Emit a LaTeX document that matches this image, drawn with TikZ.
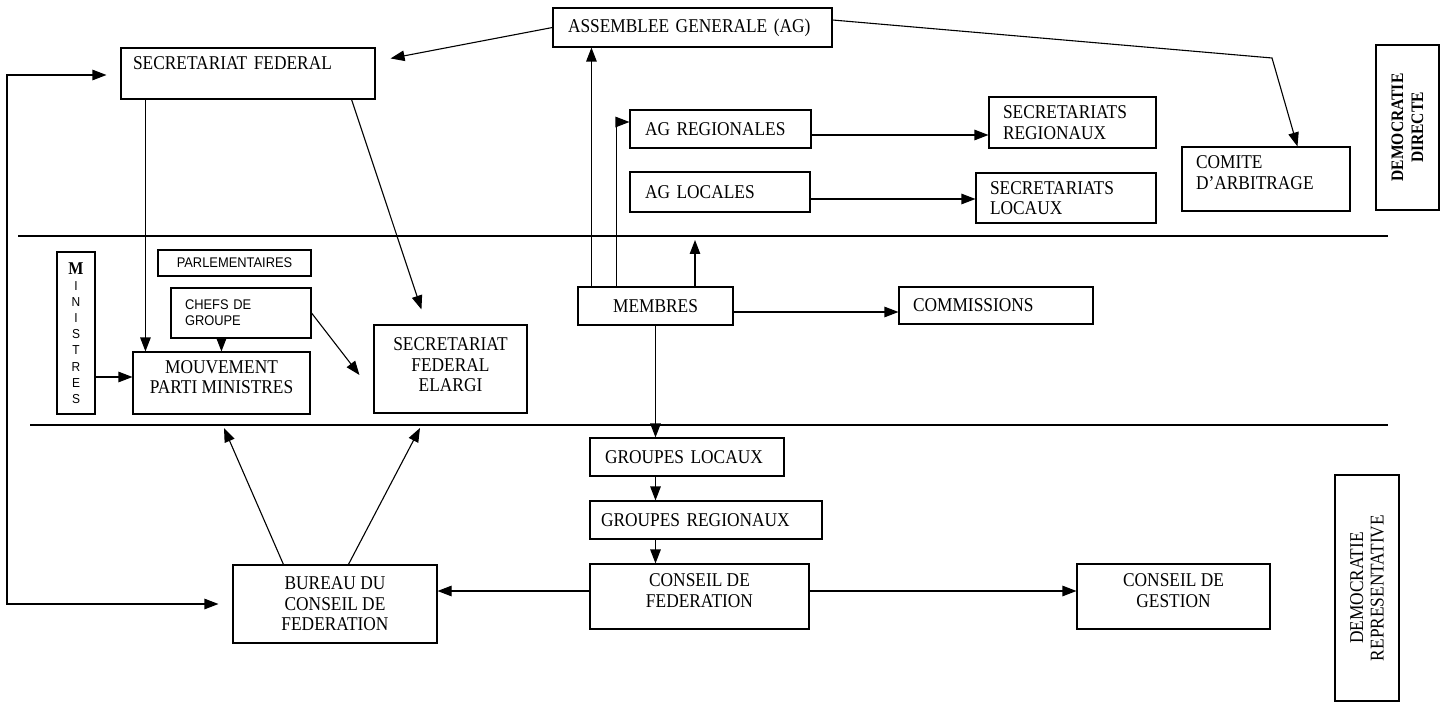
\documentclass[tikz,border=0pt]{standalone}
\usepackage{fontspec}
\setmainfont{Liberation Serif}[FakeStretch=0.89]
\newfontfamily\sansf{Liberation Sans}[FakeStretch=0.92]
\usetikzlibrary{arrows.meta,calc}
\begin{document}
\begin{tikzpicture}[x=1pt,y=-1pt,
  every node/.style={font=\fontsize{19.5}{20.5}\selectfont, text=black},
  bx/.style={draw, line width=1.1pt, inner sep=0pt, align=center},
  lb/.style={draw, line width=1.1pt, inner ysep=0pt, align=left},
  arr/.style={line width=1.1pt, -{Triangle[length=14pt,width=10.5pt]}},
  arrb/.style={line width=1.1pt, {Triangle[length=14pt,width=10.5pt]}-{Triangle[length=14pt,width=10.5pt]}},
  sepline/.style={line width=1.3pt}]
\useasboundingbox (0,0) rectangle (1442,703);

% separators
\draw[sepline] (18,236) -- (1388,236);
\draw[sepline] (30,425) -- (1388,425);

% top zone
\node[lb, inner xsep=15pt, text width=249pt, minimum height=39pt] (AG) at (692.5,27.5) {ASSEMBLEE GENERALE (AG)};
\node[lb, inner xsep=12pt, text width=230pt, minimum height=51pt] (SF) at (248,73.5) {SECRETARIAT FEDERAL\\[0pt]\mbox{}};
\node[lb, inner xsep=15pt, text width=151pt, minimum height=38pt] (AGR) at (720.5,129) {AG REGIONALES};
\node[lb, inner xsep=15pt, text width=150pt, minimum height=40pt] (AGL) at (720,192) {AG LOCALES};
\node[lb, inner xsep=14pt, text width=139pt, minimum height=51pt] (SR) at (1072.5,122.5) {SECRETARIATS\\REGIONAUX};
\node[lb, inner xsep=14pt, text width=152pt, minimum height=50pt] (SL) at (1066,198) {SECRETARIATS\\LOCAUX};
\node[lb, inner xsep=14pt, text width=140pt, minimum height=64pt] (COM) at (1266,179) {COMITE\\D’ARBITRAGE\\[-8pt]\mbox{}};
\node[bx, rotate=90, minimum width=165pt, minimum height=63pt, font=\bfseries\fontsize{17.5}{20}\selectfont] (DD) at (1407.5,127.5) {DEMOCRATIE\\DIRECTE};

% middle zone
\node[bx, minimum width=38pt, minimum height=162pt, font=\sansf\fontsize{13}{16.1}\selectfont] (MIN) at (76,333)
  {{\rmfamily\bfseries\fontsize{18}{16.1}\selectfont M}\\I\\N\\I\\S\\T\\R\\E\\S};
\node[bx, minimum width=153pt, minimum height=26pt, font=\sansf\fontsize{14}{16}\selectfont] (PARL) at (234.5,263) {PARLEMENTAIRES};
\node[lb, inner xsep=14pt, text width=112pt, minimum height=50pt, font=\sansf\fontsize{14}{16}\selectfont] (CH) at (241,313) {CHEFS DE\\GROUPE};
\node[bx, minimum width=177pt, minimum height=62pt] (MPM) at (221.5,383) {MOUVEMENT\\PARTI MINISTRES\\[-9pt]\mbox{}};
\node[bx, minimum width=153pt, minimum height=88pt] (SFE) at (450.5,369) {SECRETARIAT\\FEDERAL\\ELARGI\\[-12pt]\mbox{}};
\node[bx, minimum width=155pt, minimum height=38pt] (MEM) at (655.5,306) {MEMBRES};
\node[lb, inner xsep=14pt, text width=166pt, minimum height=37pt] (COMM) at (996,305.5) {COMMISSIONS};

% bottom zone
\node[lb, inner xsep=15pt, text width=164pt, minimum height=38pt] (GL) at (687,457) {GROUPES LOCAUX};
\node[lb, inner xsep=11pt, text width=210pt, minimum height=38pt] (GR) at (706,520) {GROUPES REGIONAUX};
\node[bx, minimum width=219pt, minimum height=65pt] (CF) at (699.5,596.5) {CONSEIL DE\\FEDERATION\\[-9pt]\mbox{}};
\node[bx, minimum width=193pt, minimum height=65pt] (CG) at (1173.5,596.5) {CONSEIL DE\\GESTION\\[-9pt]\mbox{}};
\node[bx, minimum width=204pt, minimum height=78pt] (BUR) at (335,604) {BUREAU DU\\CONSEIL DE\\FEDERATION};
\node[bx, rotate=90, minimum width=226pt, minimum height=64pt] (DR) at (1367,588) {DEMOCRATIE\\REPRESENTATIVE};

% free ends
\coordinate (lc) at (7,604);
\coordinate (memup) at (695,240);
\coordinate (bend) at (1272,58);
\coordinate (t1) at (224,428);
\coordinate (t2) at (420,428);

% connectors
\draw[arr] (AG.west) -- ($(SF.north east)+(15,11)$);
\draw[arrb] ($(SF.west)+(-14,1.5)$) -| (lc) -- ($(BUR.west)+(-14,0)$);
\draw[arr] ($(SF.south west)+(25,0)$) -- ($(MPM.north west)+(13,0)$);
\draw[arr] ($(SF.south east)+(-24,0)$) -- ($(SFE.north west)+(48,-15)$);
\draw[arr] ($(MEM.north west)+(14,0)$) coordinate (m1) -- (m1 |- AG.south);
\draw[arr] ($(MEM.north west)+(39,0)$) |- ($(AGR.west)+(0,-7)$);
\draw[arr] (MEM.north -| memup) -- (memup);
\draw[arr] ($(MEM.east)+(0,6)$) coordinate (m2) -- (m2 -| COMM.west);
\draw[arr] (MEM.south) -- (MEM.south |- GL.north);
\draw[arr] (MEM.south |- GL.south) -- (MEM.south |- GR.north);
\draw[arr] (MEM.south |- GR.south) -- (MEM.south |- CF.north);
\draw[arr] ($(CF.east)+(0,-5.5)$) coordinate (c1) -- (c1 -| CG.west);
\draw[arr] ($(CF.west)+(0,-5.5)$) coordinate (c2) -- (c2 -| BUR.east);
\draw[arr] ($(AGR.east)+(0,6)$) coordinate (a1) -- (a1 -| SR.west);
\draw[arr] ($(AGL.east)+(0,7)$) coordinate (a2) -- (a2 -| SL.west);
\draw[arr] ($(AG.east)+(0,-7.5)$) -- (bend) -- ($(COM.north west)+(116,0)$);
\draw[arr] ($(MIN.east)+(0,44)$) coordinate (n1) -- (n1 -| MPM.west);
\draw[arr] ($(CH.south west)+(51,0)$) coordinate (h1) -- (h1 |- MPM.north);
\draw[arr] (CH.east) -- ($(SFE.west)+(-14,6)$);
\draw[arr] ($(BUR.north west)+(51,0)$) -- (t1);
\draw[arr] ($(BUR.north west)+(116,0)$) -- (t2);
\end{tikzpicture}
\end{document}
